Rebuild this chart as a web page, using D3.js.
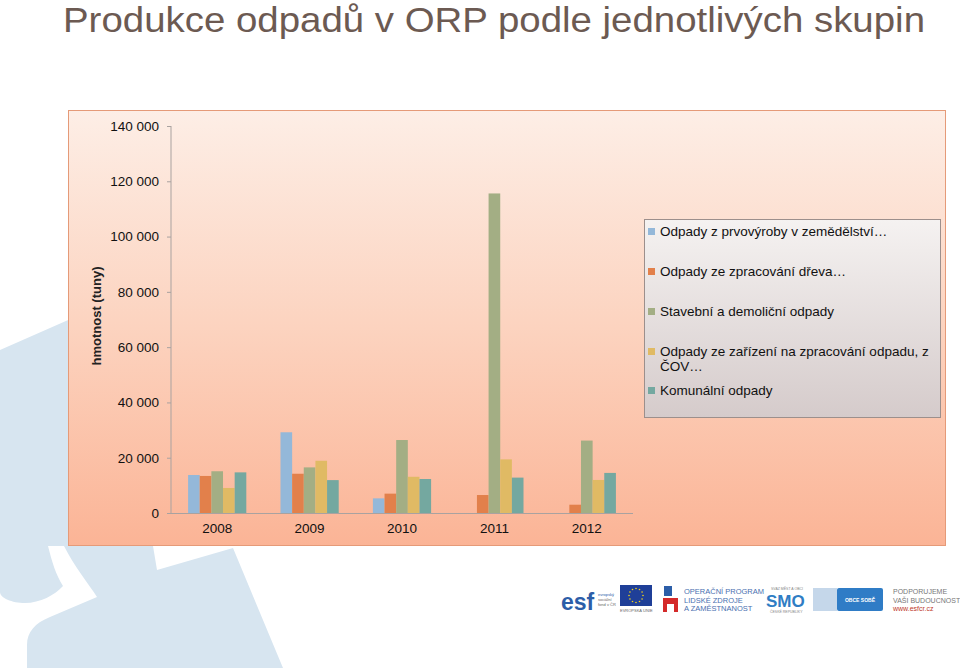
<!DOCTYPE html>
<html><head><meta charset="utf-8">
<script src="https://cdn.jsdelivr.net/npm/d3@7"></script>
<style>html,body{margin:0;padding:0;background:#fff;}svg{display:block;}</style>
</head><body>
<svg id="c" width="960" height="668"></svg>
<script>
const title = "Produkce odpadů v ORP podle jednotlivých skupin";
const years = ["2008", "2009", "2010", "2011", "2012"];
const seriesNames = [
  "Odpady z prvovýroby v zemědělství…",
  "Odpady ze zpracování dřeva…",
  "Stavební a demoliční odpady",
  "Odpady ze zařízení na zpracování  odpadu, z\nČOV…",
  "Komunální odpady"
];
const agriculture = [13750, 29200, 5300, 0, 0];
const wood = [13400, 14200, 7000, 6500, 3000];
const construction = [15100, 16500, 26400, 115600, 26200];
const processing = [9050, 18900, 13100, 19400, 11950];
const municipal = [14700, 11900, 12300, 12800, 14500];
const yTicks = [0, 20000, 40000, 60000, 80000, 100000, 120000, 140000];
const yTitle = "hmotnost (tuny)";
const colors = ["#94b8d9", "#e2804b", "#a3ae84", "#e0ba64", "#74a8a0"];

const seriesValues = [agriculture, wood, construction, processing, municipal];
const svg = d3.select("#c");
const font = "'Liberation Sans', Arial, sans-serif";

// defs
const defs = svg.append("defs");
const g1 = defs.append("linearGradient").attr("id","bg").attr("x1",0).attr("y1",0).attr("x2",0).attr("y2",1);
g1.append("stop").attr("offset","0").attr("stop-color","#fdeee6");
g1.append("stop").attr("offset","0.5").attr("stop-color","#fcd3bf");
g1.append("stop").attr("offset","1").attr("stop-color","#fbb496");
const g2 = defs.append("linearGradient").attr("id","lg").attr("x1",0).attr("y1",0).attr("x2",0).attr("y2",1);
g2.append("stop").attr("offset","0").attr("stop-color","#f5f2f1");
g2.append("stop").attr("offset","1").attr("stop-color","#d5cbcb");

// decorative background shapes
const deco = "#d7e5f0";
svg.append("path").attr("fill",deco)
  .attr("d","M0,350 L75,317 L75,546 L48,546 C52,562 56,575 63,586 C55,595 40,603 25,603 C12,603 0,598 0,592 Z");
svg.append("path").attr("fill",deco)
  .attr("d","M64,546 L153,546 L157,570 L233,548 L283,668 L27,668 L27,645 C27,632 35,623 50,617 L97,597 C88,583 74,566 64,546 Z");

// title
svg.append("text").attr("x",63).attr("y",32).attr("font-family",font).attr("font-size",35)
  .attr("fill","#6c5a52").attr("textLength",862).attr("lengthAdjust","spacingAndGlyphs").text(title);

// chart frame
svg.append("rect").attr("x",68.5).attr("y",110.5).attr("width",877).attr("height",435)
  .attr("fill","url(#bg)").attr("stroke","#e59a78").attr("stroke-width",1);

const y = d3.scaleLinear().domain([0,140000]).range([513,126]);
const x = d3.scaleBand().domain(years).range([171,633]).paddingInner(0.37).paddingOuter(0.185);
const xs = d3.scaleBand().domain(d3.range(seriesNames.length)).range([0,x.bandwidth()]);

// bars
const groups = svg.append("g").selectAll("g").data(years).join("g")
  .attr("transform", d => `translate(${x(d)},0)`);
groups.selectAll("rect").data((d,i) => seriesValues.map((s,k) => ({k, v:s[i]}))).join("rect")
  .attr("x", d => xs(d.k)).attr("width", xs.bandwidth())
  .attr("y", d => y(d.v)).attr("height", d => y(0) - y(d.v))
  .attr("fill", d => colors[d.k]);

// y axis
const fmt = v => d3.format(",")(v).replace(/,/g," ");
const ya = svg.append("g").attr("transform","translate(171,0)")
  .call(d3.axisLeft(y).tickValues(yTicks).tickFormat(fmt).tickSize(4).tickPadding(8));
ya.selectAll("path,line").attr("stroke","#a9a2a0");
ya.selectAll("text").attr("font-family",font).attr("font-size",13.5).attr("fill","#111");
ya.select(".domain").attr("d","M0,126V513");

// x axis
const xa = svg.append("g").attr("transform","translate(0,513)")
  .call(d3.axisBottom(x).tickSize(0).tickPadding(10));
xa.select(".domain").attr("stroke","#a9a2a0").attr("d","M171,0.5H633");
xa.selectAll("text").attr("font-family",font).attr("font-size",13.5).attr("fill","#111");

// y title
svg.append("text").attr("transform","translate(101,316) rotate(-90)").attr("text-anchor","middle")
  .attr("font-family",font).attr("font-size",13).attr("font-weight","bold").attr("fill","#222").text(yTitle);

// legend
svg.append("rect").attr("x",644.5).attr("y",219.5).attr("width",296).attr("height",198)
  .attr("fill","url(#lg)").attr("stroke","#9c8f8c");
const rows = [236, 276, 316, 356, 395];
seriesNames.forEach((n,i) => {
  svg.append("rect").attr("x",648).attr("y",rows[i]-8).attr("width",7).attr("height",7).attr("fill",colors[i]);
  const t = svg.append("text").attr("x",660).attr("y",rows[i]).attr("font-family",font).attr("font-size",13.5).attr("fill","#111");
  n.split("\n").forEach((line,j) => t.append("tspan").attr("x",660).attr("dy", j ? 15 : 0).text(line));
});

// logos bar
const lg = svg.append("g");
lg.append("text").attr("x",561).attr("y",610).attr("font-family",font).attr("font-weight","bold").attr("font-size",23)
  .attr("fill","#2c5ea8").text("esf");
lg.append("text").attr("x",598).attr("y",596).attr("font-family",font).attr("font-size",4).attr("fill","#2c5ea8").text("evropský");
lg.append("text").attr("x",598).attr("y",601).attr("font-family",font).attr("font-size",4).attr("fill","#666").text("sociální");
lg.append("text").attr("x",598).attr("y",606).attr("font-family",font).attr("font-size",4).attr("fill","#666").text("fond v ČR");
lg.append("rect").attr("x",620).attr("y",585).attr("width",32).attr("height",21).attr("fill","#1f3f98");
d3.range(12).forEach(i => {
  const a = i*Math.PI/6;
  lg.append("circle").attr("cx",636+7*Math.cos(a)).attr("cy",595.5+7*Math.sin(a)).attr("r",0.8).attr("fill","#f2d31a");
});
lg.append("text").attr("x",620).attr("y",612).attr("font-family",font).attr("font-size",4).attr("fill","#666").text("EVROPSKÁ UNIE");
lg.append("rect").attr("x",664).attr("y",586).attr("width",8).attr("height",10).attr("fill","#2c5ea8");
lg.append("path").attr("d","M663,612 V598 H678 V612 H674 V604 H667 V612 Z").attr("fill","#d42a2a");
["OPERAČNÍ PROGRAM","LIDSKÉ ZDROJE","A ZAMĚSTNANOST"].forEach((t,i) =>
  lg.append("text").attr("x",684).attr("y",594+i*8.5).attr("font-family",font).attr("font-size",7.5).attr("fill","#4a70b0").text(t));
lg.append("text").attr("x",766).attr("y",607).attr("font-family",font).attr("font-weight","bold").attr("font-size",17)
  .attr("fill","#2f7dc4").text("SMO");
lg.append("text").attr("x",771).attr("y",590).attr("font-family",font).attr("font-size",3.5).attr("fill","#888").text("SVAZ MĚST A OBCÍ");
lg.append("text").attr("x",770).attr("y",613).attr("font-family",font).attr("font-size",3.5).attr("fill","#888").text("ČESKÉ REPUBLIKY");
lg.append("rect").attr("x",813).attr("y",588).attr("width",24).attr("height",23).attr("fill","#c5d7ea");
lg.append("rect").attr("x",837).attr("y",588).attr("width",46).attr("height",23).attr("rx",2).attr("fill","#2f7cc6");
lg.append("text").attr("x",860).attr("y",602).attr("text-anchor","middle").attr("font-family",font).attr("font-size",5).attr("font-weight","bold").attr("fill","#fff").text("OBCE SOBĚ");
["PODPORUJEME","VAŠI BUDOUCNOST"].forEach((t,i) =>
  lg.append("text").attr("x",893).attr("y",594+i*8.5).attr("font-family",font).attr("font-size",7).attr("fill","#777").text(t));
lg.append("text").attr("x",893).attr("y",611).attr("font-family",font).attr("font-size",7).attr("fill","#c0392b").text("www.esfcr.cz");
</script>
</body></html>
